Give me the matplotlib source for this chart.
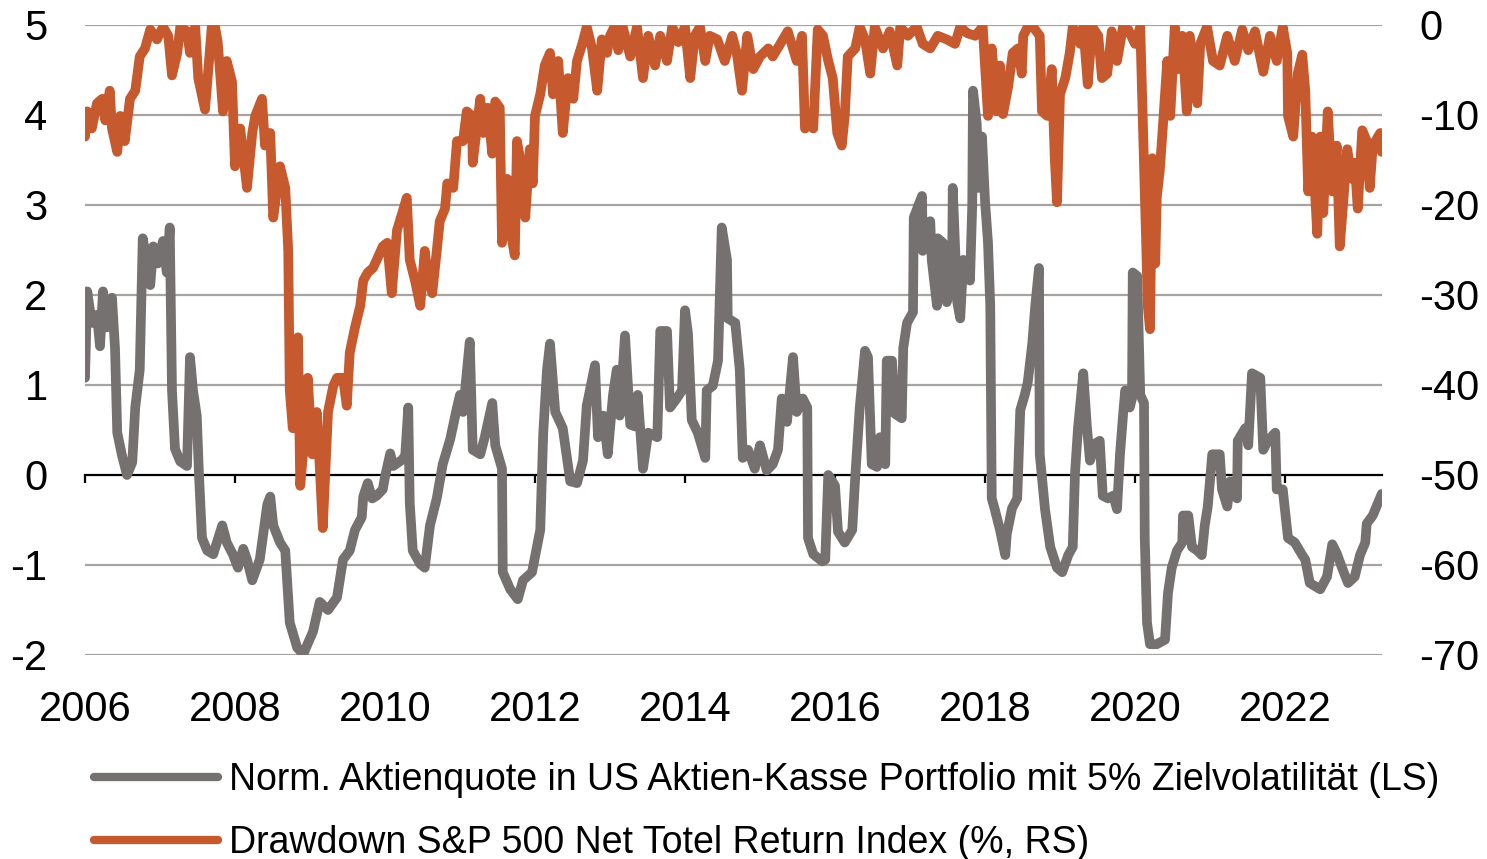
"""
Normierte Aktienquote vs. Drawdown S&P 500
"""
import numpy as np
import matplotlib.pyplot as plt

GREY = "#767171"
ORANGE = "#C65A2E"
GRID = "#A6A3A0"

YEAR0 = 2006

## Norm. Aktienquote (LS) - years after 2006, value
quota_t = [0.00, 0.03, 0.09, 0.16, 0.20, 0.24, 0.29, 0.36, 0.40, 0.43, 0.49, 0.56, 0.63, 0.67,
           0.73, 0.77, 0.87, 0.91, 0.97, 1.04, 1.09, 1.13, 1.16, 1.20, 1.27, 1.36, 1.40, 1.44,
           1.49, 1.52, 1.56, 1.63, 1.71, 1.83, 1.89, 1.97, 2.04, 2.11, 2.16, 2.23, 2.33, 2.43,
           2.47, 2.51, 2.60, 2.67, 2.73, 2.83, 2.91, 3.04, 3.13, 3.24, 3.36, 3.44, 3.53, 3.60,
           3.69, 3.71, 3.77, 3.83, 3.89, 3.97, 4.00, 4.07, 4.11, 4.23, 4.27, 4.31, 4.33, 4.37,
           4.47, 4.53, 4.60, 4.69, 4.77, 4.87, 4.96, 5.00, 5.04, 5.13, 5.17, 5.27, 5.33, 5.43,
           5.47, 5.56, 5.57, 5.67, 5.77, 5.84, 5.96, 6.07, 6.11, 6.16, 6.20, 6.27, 6.37, 6.47,
           6.56, 6.64, 6.69, 6.80, 6.84, 6.91, 6.97, 7.04, 7.09, 7.13, 7.20, 7.27, 7.33, 7.37,
           7.44, 7.51, 7.63, 7.67, 7.76, 7.80, 7.89, 7.96, 8.00, 8.04, 8.09, 8.17, 8.27, 8.29,
           8.37, 8.44, 8.49, 8.56, 8.57, 8.67, 8.73, 8.77, 8.84, 8.93, 9.00, 9.09, 9.17, 9.24,
           9.29, 9.36, 9.44, 9.49, 9.57, 9.63, 9.64, 9.71, 9.83, 9.87, 9.91, 10.00, 10.04, 10.13,
           10.23, 10.27, 10.33, 10.40, 10.44, 10.49, 10.56, 10.60, 10.67, 10.69, 10.76, 10.80,
           10.89, 10.91, 10.96, 11.04, 11.05, 11.16, 11.17, 11.27, 11.29, 11.36, 11.37, 11.44,
           11.49, 11.56, 11.57, 11.63, 11.67, 11.71, 11.80, 11.83, 11.84, 11.89, 11.91, 11.96,
           12.00, 12.04, 12.07, 12.09, 12.13, 12.20, 12.27, 12.29, 12.36, 12.43, 12.47, 12.53,
           12.57, 12.63, 12.67, 12.72, 12.73, 12.80, 12.87, 12.96, 13.03, 13.11, 13.17, 13.20,
           13.24, 13.31, 13.36, 13.40, 13.47, 13.53, 13.57, 13.64, 13.71, 13.76, 13.80, 13.84,
           13.87, 13.93, 13.96, 13.97, 14.03, 14.07, 14.12, 14.13, 14.16, 14.20, 14.29, 14.40,
           14.44, 14.49, 14.56, 14.63, 14.64, 14.71, 14.76, 14.83, 14.89, 14.93, 14.97, 15.03,
           15.13, 15.16, 15.23, 15.27, 15.36, 15.37, 15.47, 15.51, 15.56, 15.67, 15.71, 15.77,
           15.87, 15.89, 15.97, 16.04, 16.13, 16.23, 16.27, 16.33, 16.47, 16.56, 16.63, 16.69,
           16.76, 16.84, 16.93, 17.00, 17.07, 17.09, 17.17, 17.23, 17.29]
quota = [1.08, 2.04, 1.69, 1.78, 1.43, 2.04, 1.64, 1.97, 1.41, 0.47, 0.23, 0.00, 0.14, 0.75,
         1.17, 2.63, 2.11, 2.54, 2.35, 2.60, 2.25, 2.75, 0.94, 0.29, 0.15, 0.10, 1.31, 0.94,
         0.66, 0.00, -0.70, -0.84, -0.88, -0.56, -0.75, -0.88, -1.03, -0.82, -0.94, -1.17, -0.94, -0.33,
         -0.24, -0.56, -0.75, -0.84, -1.64, -1.92, -1.99, -1.74, -1.41, -1.50, -1.36, -0.94, -0.84, -0.61,
         -0.47, -0.24, -0.09, -0.26, -0.23, -0.16, -0.02, 0.24, 0.10, 0.17, 0.22, 0.75, -0.31, -0.84,
         -0.99, -1.03, -0.56, -0.26, 0.12, 0.40, 0.75, 0.89, 0.70, 1.48, 0.28, 0.23, 0.42, 0.80,
         0.33, 0.07, -1.08, -1.27, -1.38, -1.17, -1.08, -0.61, 0.47, 1.17, 1.46, 0.70, 0.52, -0.07,
         -0.09, 0.16, 0.77, 1.22, 0.42, 0.66, 0.23, 0.89, 1.17, 0.66, 1.55, 0.56, 0.54, 0.89,
         0.07, 0.47, 0.42, 1.60, 1.60, 0.75, 0.85, 0.94, 1.83, 1.57, 0.61, 0.47, 0.19, 0.94,
         0.99, 1.27, 2.75, 2.39, 1.74, 1.69, 1.17, 0.19, 0.28, 0.07, 0.33, 0.05, 0.12, 0.28,
         0.85, 0.59, 1.31, 0.70, 0.85, 0.75, -0.70, -0.88, -0.96, -0.94, 0.00, -0.12, -0.63, -0.75,
         -0.61, -0.02, 0.75, 1.38, 1.31, 0.12, 0.09, 0.42, 0.12, 1.27, 1.27, 0.68,
         0.63, 1.41, 1.69, 1.81, 2.86, 3.10, 2.49, 2.82, 2.39, 1.88, 2.63, 2.58,
         1.92, 2.16, 3.19, 1.92, 1.74, 2.39, 2.16, 3.00, 4.27, 3.90, 3.19, 3.76,
         3.05, 2.58, 1.88, -0.26, -0.38, -0.61, -0.89, -0.66, -0.37, -0.26, 0.72, 0.89,
         1.03, 1.46, 1.88, 2.30, 0.23, -0.38, -0.80, -1.03, -1.08, -0.89, -0.80, 0.02,
         0.52, 1.13, 0.52, 0.16, 0.35, 0.38, -0.23, -0.26, -0.23, -0.38, 0.23, 0.66,
         0.94, 0.75, 0.85, 2.25, 2.21, 0.89, 0.80, -0.70, -1.64, -1.88, -1.88, -1.83,
         -1.31, -1.03, -0.84, -0.75, -0.45, -0.45, -0.80, -0.84, -0.89, -0.56, -0.35, 0.23,
         0.23, -0.16, -0.35, -0.07, -0.26, 0.38, 0.52, 0.33, 1.13, 1.08, 0.28, 0.38,
         0.47, -0.16, -0.16, -0.70, -0.75, -0.89, -0.94, -1.20, -1.27, -1.13, -0.77, -0.87,
         -1.03, -1.20, -1.13, -0.89, -0.75, -0.54, -0.45, -0.33, -0.21]

## Drawdown S&P 500 Net Total Return (RS, %)
dd_t = [0.00, 0.03, 0.09, 0.16, 0.23, 0.27, 0.33, 0.36, 0.43, 0.47, 0.53, 0.60, 0.67, 0.73,
        0.80, 0.87, 0.96, 1.04, 1.11, 1.16, 1.23, 1.27, 1.36, 1.40, 1.47, 1.51, 1.60, 1.64,
        1.69, 1.73, 1.77, 1.84, 1.89, 1.96, 2.00, 2.07, 2.16, 2.23, 2.27, 2.36, 2.40, 2.47,
        2.51, 2.60, 2.67, 2.71, 2.73, 2.77, 2.84, 2.87, 2.93, 2.97, 3.03, 3.09, 3.13, 3.17,
        3.24, 3.31, 3.36, 3.44, 3.49, 3.53, 3.60, 3.67, 3.71, 3.77, 3.84, 3.89, 3.97, 4.03,
        4.09, 4.16, 4.23, 4.29, 4.33, 4.40, 4.47, 4.53, 4.57, 4.63, 4.69, 4.73, 4.80, 4.83,
        4.91, 4.96, 5.04, 5.09, 5.16, 5.17, 5.27, 5.31, 5.37, 5.43, 5.47, 5.53, 5.56, 5.63,
        5.69, 5.73, 5.76, 5.83, 5.87, 5.93, 5.97, 6.00, 6.07, 6.13, 6.20, 6.24, 6.31, 6.37,
        6.44, 6.51, 6.56, 6.63, 6.69, 6.76, 6.83, 6.89, 6.96, 7.00, 7.07, 7.11, 7.17, 7.27,
        7.36, 7.44, 7.51, 7.60, 7.67, 7.76, 7.83, 7.91, 8.00, 8.07, 8.13, 8.20, 8.27, 8.33,
        8.43, 8.53, 8.63, 8.69, 8.76, 8.83, 8.91, 9.00, 9.11, 9.17, 9.27, 9.37, 9.49, 9.56,
        9.60, 9.64, 9.71, 9.77, 9.84, 9.91, 9.97, 10.03, 10.09, 10.13, 10.17, 10.27, 10.33, 10.40,
        10.47, 10.53, 10.64, 10.73, 10.83, 10.87, 10.97, 11.09, 11.17, 11.27, 11.37, 11.49, 11.60, 11.67,
        11.76, 11.87, 11.97, 12.04, 12.09, 12.16, 12.20, 12.24, 12.31, 12.37, 12.44, 12.49, 12.51, 12.57,
        12.64, 12.73, 12.76, 12.83, 12.89, 12.93, 12.96, 13.00, 13.07, 13.13, 13.17, 13.27, 13.31, 13.37,
        13.43, 13.51, 13.56, 13.63, 13.69, 13.76, 13.84, 13.91, 14.00, 14.07, 14.11, 14.15, 14.17, 14.20,
        14.23, 14.27, 14.29, 14.33, 14.37, 14.43, 14.47, 14.53, 14.57, 14.63, 14.69, 14.73, 14.83, 14.87,
        14.96, 15.04, 15.13, 15.23, 15.33, 15.43, 15.51, 15.60, 15.71, 15.80, 15.89, 15.97, 16.03, 16.04,
        16.11, 16.17, 16.23, 16.27, 16.31, 16.36, 16.43, 16.47, 16.51, 16.57, 16.63, 16.69, 16.73, 16.77,
        16.83, 16.89, 16.93, 16.97, 17.03, 17.09, 17.13, 17.17, 17.27, 17.29]
drawdown = [-12.4, -9.6, -11.5, -8.7, -8.2, -10.6, -7.3, -11.5, -14.1, -10.1, -12.9, -8.2, -7.3, -3.5,
            -2.6, -0.5, -1.6, -0.2, -1.2, -5.6, -3.1, -0.2, -0.7, -3.1, -0.2, -5.9, -9.4, -5.4,
            -0.2, 0.0, -1.9, -9.6, -4.0, -6.3, -15.7, -11.5, -18.1, -12.0, -10.1, -8.2, -13.4, -12.0,
            -21.4, -15.7, -18.1, -25.1, -40.6, -44.8, -34.7, -51.2, -45.3, -39.2, -47.7, -43.0, -49.1, -55.9,
            -43.0, -40.1, -39.2, -39.2, -42.3, -36.4, -33.6, -31.2, -28.4, -27.5, -27.0, -26.1, -24.6, -24.2,
            -29.8, -22.8, -20.9, -19.2, -26.1, -28.4, -31.2, -25.1, -27.9, -29.8, -25.1, -21.8, -20.4, -17.6,
            -18.1, -12.9, -12.9, -9.6, -10.1, -15.3, -8.2, -12.0, -9.2, -14.3, -8.5, -9.2, -24.2, -17.1,
            -23.7, -25.6, -12.9, -16.2, -21.4, -13.8, -17.6, -10.1, -7.7, -4.5, -3.1, -7.7, -4.0, -12.0,
            -5.9, -8.2, -4.0, -2.1, -0.2, -2.6, -7.3, -1.6, -3.1, -1.2, 0.0, -2.8, -0.2, -3.5,
            -0.2, -5.9, -1.2, -4.5, -1.2, -4.0, -0.2, -1.9, -0.2, -5.9, -1.2, -0.2, -4.0, -1.2,
            -1.6, -4.0, -1.2, -3.1, -7.3, -1.2, -4.9, -3.5, -2.6, -3.5, -2.1, -0.7, -4.0, -1.2,
            -11.5, -10.6, -11.5, -0.5, -1.2, -4.0, -5.9, -12.0, -13.4, -10.1, -3.5, -2.6, -0.2, -1.6,
            -5.4, -0.2, -2.6, -0.7, -4.5, -0.2, -1.2, -0.2, -2.1, -2.6, -1.2, -1.6, -2.1, -0.2,
            -0.9, -1.2, -0.2, -10.1, -2.6, -9.6, -4.5, -9.9, -6.8, -3.1, -2.6, -5.4, -1.2, -0.2,
            -0.2, -1.2, -9.6, -10.1, -4.9, -14.8, -19.7, -7.7, -5.9, -3.1, -0.2, -2.1, -0.2, -6.6,
            -0.2, -1.2, -5.9, -5.4, -0.7, -4.0, -0.2, -0.5, -2.1, -0.2, -12.4, -24.6, -31.2, -33.8,
            -14.8, -26.5, -19.2, -16.2, -11.5, -4.0, -10.1, -0.2, -4.9, -1.2, -9.6, -1.2, -8.7, -2.1,
            -0.2, -4.0, -4.5, -1.2, -4.0, -0.5, -2.8, -0.7, -5.2, -1.2, -4.0, -0.2, -3.1, -10.1,
            -12.4, -5.4, -3.3, -7.3, -18.5, -12.4, -23.2, -12.4, -20.9, -9.6, -18.5, -13.4, -24.6, -20.4,
            -13.8, -17.1, -15.3, -20.4, -11.7, -12.9, -18.1, -13.4, -12.0, -14.1]

YEAR_TICKS = np.arange(2006, 2023, 2)
LEFT_TICKS = np.arange(-2, 6, 1)
RIGHT_TICKS = np.arange(-70, 1, 10)

LABEL_QUOTA = "Norm. Aktienquote in US Aktien-Kasse Portfolio mit 5% Zielvolatilität (LS)"
LABEL_DD = "Drawdown S&P 500 Net Totel Return Index (%, RS)"


def main():
    plt.rcParams['font.family'] = ['Liberation Sans', 'DejaVu Sans']
    plt.rcParams['axes.unicode_minus'] = False

    fig = plt.figure(figsize=(14.87, 8.59), dpi=100)
    ax = fig.add_axes([85/1487, 1 - 655/859, 1297/1487, 630/859])
    ax2 = ax.twinx()

    l1, = ax.plot(YEAR0 + np.array(quota_t), quota, color=GREY, lw=7,
                  solid_joinstyle='round', solid_capstyle='round', zorder=3)
    l2, = ax2.plot(YEAR0 + np.array(dd_t), drawdown, color=ORANGE, lw=7,
                   solid_joinstyle='round', solid_capstyle='round')

    ax.set_xlim(2006, 2006 + 1297/75)
    ax.set_ylim(-2, 5)
    ax2.set_ylim(-70, 0)

    # horizontal grid, zero line replaced by the x axis spine
    for v in LEFT_TICKS:
        if v != 0:
            ax.axhline(v, color=GRID, lw=1.6, zorder=1)

    for s in ['top', 'left', 'right']:
        ax.spines[s].set_visible(False)
    for s in ax2.spines.values():
        s.set_visible(False)
    ax.spines['bottom'].set_position(('data', 0))
    ax.spines['bottom'].set_linewidth(1.6)
    ax.spines['bottom'].set_zorder(2)

    ax.set_xticks(YEAR_TICKS)
    ax.tick_params(axis='x', direction='out', length=6, width=1.6, color='black',
                   labelbottom=False)

    # year labels below the plot area
    sec = ax.secondary_xaxis('bottom')
    sec.set_xticks(YEAR_TICKS)
    sec.set_xticklabels([str(y) for y in YEAR_TICKS])
    sec.tick_params(length=0, pad=25, labelsize=30)
    sec.spines['bottom'].set_visible(False)

    ax.set_yticks(LEFT_TICKS)
    ax.tick_params(axis='y', length=0, pad=27, labelsize=30)
    ax2.set_yticks(RIGHT_TICKS)
    ax2.tick_params(axis='y', length=0, pad=27, labelsize=30)

    leg = fig.legend([l1, l2], [LABEL_QUOTA, LABEL_DD], loc='upper left',
                     bbox_to_anchor=(94/1487, 1 - 762/859), frameon=False,
                     fontsize=27, handlelength=3.3, handletextpad=0.3,
                     labelspacing=0.72, borderpad=0, borderaxespad=0)
    for h in leg.get_lines():
        h.set_linewidth(6)

    fig.savefig("out.png", dpi=100)
    plt.close(fig)


if __name__ == "__main__":
    main()
